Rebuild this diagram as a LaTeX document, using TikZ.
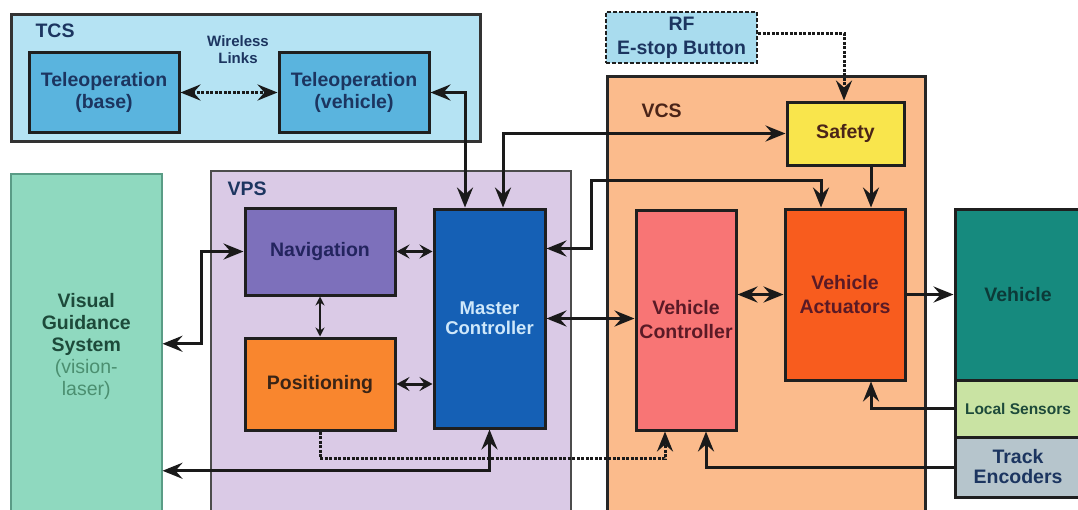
\documentclass[tikz,border=0pt]{standalone}
\usepackage{fontspec}
\setmainfont{Liberation Sans}
\usetikzlibrary{arrows.meta,positioning}

\definecolor{tcsfill}{HTML}{B5E3F3}
\definecolor{telefill}{HTML}{5AB4DE}
\definecolor{navytext}{HTML}{1C3560}
\definecolor{rffill}{HTML}{A9DCEE}
\definecolor{vcsfill}{HTML}{FBBB8C}
\definecolor{vcstext}{HTML}{4A2418}
\definecolor{safefill}{HTML}{F9E54C}
\definecolor{vcfill}{HTML}{F87575}
\definecolor{redtext}{HTML}{5A1A26}
\definecolor{vafill}{HTML}{F85C1E}
\definecolor{vehfill}{HTML}{168A7E}
\definecolor{vehtext}{HTML}{0C3A38}
\definecolor{lsfill}{HTML}{C9E3A3}
\definecolor{tefill}{HTML}{B6C5CC}
\definecolor{vgsfill}{HTML}{8FD9BF}
\definecolor{vgsline}{HTML}{5A9C86}
\definecolor{vgstext}{HTML}{1D4A3A}
\definecolor{vgslight}{HTML}{4B8F70}
\definecolor{vpsfill}{HTML}{DACAE6}
\definecolor{navfill}{HTML}{7D70BB}
\definecolor{navtext}{HTML}{23245E}
\definecolor{posfill}{HTML}{F9862E}
\definecolor{postext}{HTML}{3A2416}
\definecolor{mcfill}{HTML}{1560B5}
\definecolor{mctext}{HTML}{CFE8FA}
\definecolor{wire}{HTML}{1A1A1A}

\begin{document}
\begin{tikzpicture}[x=1pt,y=-1pt,>={Stealth[length=20pt,width=16pt,inset=7pt]},
  every node/.style={font=\fontsize{19.5}{22}\selectfont\bfseries,align=center}]
\fill[white] (0,0) rectangle (1078,509);
\useasboundingbox (0,0) rectangle (1078,509);
\clip (0,0) rectangle (1078,509);

\tikzset{group/.style={draw=black!80,line width=2.5pt,anchor=north west,inner sep=0pt}}
\tikzset{block/.style={draw=black!88,line width=3pt,inner sep=0pt}}
\tikzset{link/.style={<->,line width=3pt,draw=wire}}
\tikzset{shortlink/.style={link,>={Stealth[length=13pt,width=14pt,inset=5pt]}}}
\tikzset{dots/.style={line width=3pt,draw=wire,dash pattern=on 3pt off 1.5pt}}

% subsystems
\node[group,fill=tcsfill,minimum width=469pt,minimum height=127pt] (tcs) at (10,13) {};
\node[group,fill=vgsfill,draw=vgsline,line width=1.5pt,minimum width=151pt,minimum height=345pt,
      anchor=north west,text=vgstext] (vgs) at (10,173)
      {Visual\\Guidance\\System\\{\mdseries\color{vgslight}(vision-}\\{\mdseries\color{vgslight}laser)}};
\node[group,fill=vpsfill,draw=black!70,line width=2pt,minimum width=360pt,minimum height=345pt] (vps) at (210,170) {};
\node[group,fill=vcsfill,draw=black!85,minimum width=318pt,minimum height=440pt] (vcs) at (606,75) {};

\node[anchor=west,text=navytext] (tcslbl) at (32,31) {TCS};
\node[anchor=west,text=navytext] (vpslbl) at (224,189) {VPS};
\node[anchor=west,text=vcstext]  (vcslbl) at (638,111) {VCS};
\node[font=\fontsize{15}{17}\selectfont\bfseries,text=navytext] (wl) at (238,50) {Wireless\\Links};

% blocks
\node[block,fill=telefill,text=navytext,minimum width=150pt,minimum height=80pt] (base)  at (104,92.5) {Teleoperation\\(base)};
\node[block,fill=telefill,text=navytext,minimum width=150pt,minimum height=80pt] (telev) at (354,92.5) {Teleoperation\\(vehicle)};
\node[block,fill=rffill,text=navytext,line width=2.5pt,dash pattern=on 4pt off 2pt,
      minimum width=151pt,minimum height=51pt,font=\fontsize{19.5}{24}\selectfont\bfseries] (rf) at (681.5,37.5) {RF\\E-stop Button};
\node[block,fill=safefill,text=vcstext,minimum width=117pt,minimum height=63pt] (safety) at (845.5,133.5) {Safety};
\node[block,fill=navfill,text=navtext,minimum width=150pt,minimum height=87pt] (nav) at (320,251.5) {Navigation};
\node[block,fill=posfill,text=postext,minimum width=150pt,minimum height=92pt] (pos) at (320,384) {Positioning};
\node[block,fill=mcfill,text=mctext,minimum width=111pt,minimum height=219pt,
      font=\fontsize{18.5}{20}\selectfont\bfseries] (mc) at (489.5,318.5) {Master\\Controller};
\node[block,fill=vcfill,text=redtext,minimum width=100pt,minimum height=220pt,
      font=\fontsize{19.5}{24}\selectfont\bfseries] (vc) at (686,320) {Vehicle\\Controller};
\node[block,fill=vafill,text=redtext,minimum width=120pt,minimum height=171pt,
      font=\fontsize{19.5}{24}\selectfont\bfseries] (va) at (845,294.5) {Vehicle\\Actuators};
\node[block,fill=vehfill,text=vehtext,minimum width=126pt,minimum height=171pt] (veh) at (1018,294.5) {Vehicle};
\node[block,fill=lsfill,text=vgstext,minimum width=126pt,minimum height=57pt,
      font=\fontsize{15.5}{18}\selectfont\bfseries] (ls) [below=-3pt of veh] {Local Sensors};
\node[block,fill=tefill,text=navytext,minimum width=126pt,minimum height=60pt,
      font=\fontsize{19.5}{20}\selectfont\bfseries] (te) [below=-3pt of ls] {Track\\Encoders};

% connectors
\draw[dots,<->] (base) -- (telev);
\draw[link] (telev.east) -| ([xshift=-24.5pt]mc.north);
\draw[link] ([xshift=13.5pt]mc.north) |- (safety.west);
\draw[dots,->] ([yshift=4.5pt]rf.east) -| ([xshift=-1.5pt]safety.north);
\draw[->,line width=3pt,draw=wire] ([xshift=25.5pt]safety.south) -- ([xshift=25.5pt]safety.south |- va.north);
\coordinate (vabend) at (591,180);
\draw[link] ([yshift=-41pt]mc.north east) -| (vabend) -| ([xshift=-24pt]va.north);
\draw[link] (mc.east) -- (mc.east -| vc.west);
\draw[link] (va.west -| vc.east) -- (va.west);
\draw[->,line width=3pt,draw=wire] (va.east) -- (va.east -| veh.west);
\draw[->,line width=3pt,draw=wire] (ls.west) -| ([xshift=26pt]va.south);
\draw[->,line width=3pt,draw=wire] (te.west) -| ([xshift=20pt]vc.south);
\draw[dots,->] (pos.south) -- ++(0,27) -| ([xshift=-21pt]vc.south);
\draw[link] (mc.south) |- ([yshift=-124.5pt]vgs.east);
\draw[link] (nav.west) -- ++(-42,0) |- ([yshift=2.5pt]vgs.east);
\draw[shortlink] (nav.east) -- (nav.east -| mc.west);
\draw[shortlink] (pos.east) -- (pos.east -| mc.west);
\draw[<->,line width=2pt,draw=wire,>={Stealth[length=9pt,width=9pt,inset=3pt]}] (nav.south) -- (pos.north);

\end{tikzpicture}
\end{document}
